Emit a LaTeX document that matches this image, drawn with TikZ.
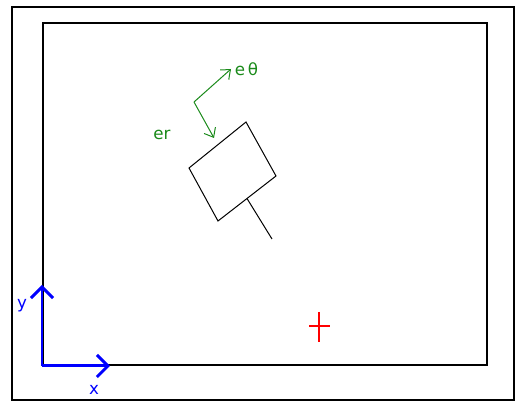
\documentclass[tikz,border=0pt]{standalone}
\usepackage{fontspec}
\setmainfont{DejaVu Sans}
\usepackage{xcolor}
\usepackage{tikz}
\usetikzlibrary{arrows.meta,positioning,calc}
\definecolor{vecgreen}{HTML}{1a8a1a}
\definecolor{axisblue}{HTML}{0000ff}
\definecolor{markred}{HTML}{ff0000}

\tikzset{
    frame/.style={draw=black,line width=0.4mm},
    field/.style={draw=black,line width=0.3mm},
    body/.style={draw=black,line width=0.2mm},
    unitvec/.style={vecgreen,line width=0.2mm,-{Straight Barb[length=1.6mm,width=2.6mm]}},
    axis/.style={axisblue,line width=0.6mm,-{Straight Barb[length=2.2mm,width=4.4mm]}},
    lbl/.style={inner sep=0pt,font=\fontsize{9.5}{11}\selectfont}
}

\begin{document}
\begin{tikzpicture}[x=0.02cm,y=-0.02cm]
    \useasboundingbox (0,0) rectangle (515,402);
    % frames
    \draw[frame] (12,7) rectangle (513.5,400);
    \draw[field] (43,23) rectangle (487,365);

    % robot body
    \coordinate (top) at (246,122);
    \coordinate (right) at (276,176);
    \coordinate (bot) at (218,221);
    \coordinate (left) at (189,168);
    \coordinate (stem) at ($(right)!0.5!(bot)$);
    \coordinate (stemend) at (272,239);
    \draw[body] (top) -- (right) -- (bot) -- (left) -- cycle;
    \draw[body] (stem) -- (stemend);

    % polar unit vectors
    \coordinate (pivot) at (194,102);
    \coordinate (ertip) at (214,138);
    \coordinate (ethtip) at (231,69);
    \node[lbl,vecgreen] (er) at (162,135) {er};
    \node[lbl,vecgreen,right=2pt of ethtip] (eth) {e\,θ};
    \draw[unitvec] (pivot) -- (ertip);
    \draw[unitvec] (pivot) -- (ethtip);

    % world axes
    \coordinate (orig) at (42,366);
    \coordinate (xtip) at (110,366);
    \coordinate (ytip) at (42,285);
    \draw[axis] (orig) -- (xtip);
    \draw[axis] (orig) -- (ytip);
    \node[lbl,axisblue] (xl) at (94,390) {x};
    \node[lbl,axisblue] (yl) at (22,306) {y};

    % target mark
    \coordinate (mk) at (319,326);
    \draw[markred,line width=0.5mm] ($(mk)+(-10,0)$) -- ($(mk)+(11,0)$)
        ($(mk)+(0,-14)$) -- ($(mk)+(0,16)$);
\end{tikzpicture}
\end{document}
